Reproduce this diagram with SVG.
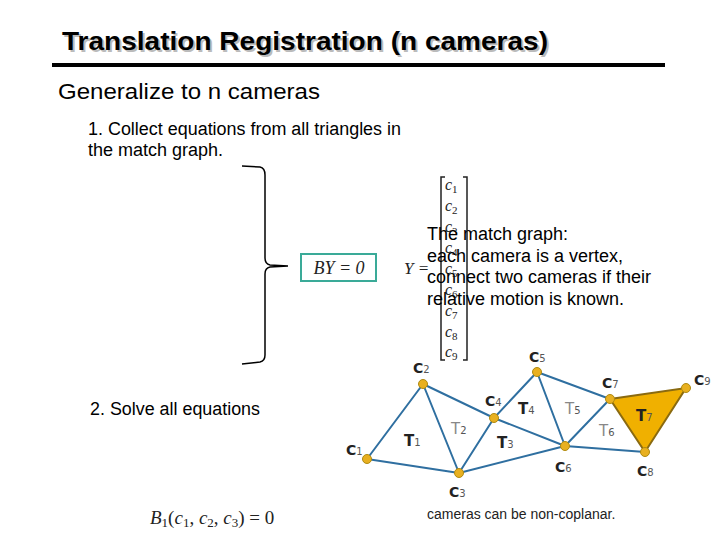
<svg xmlns="http://www.w3.org/2000/svg" width="720" height="540" viewBox="0 0 720 540">
<style>
.sans{font-family:"Liberation Sans",Arial,sans-serif;fill:#000}
.math{font-family:"Liberation Serif","Times New Roman",serif;font-style:italic;fill:#222}
.edge{stroke:#2f6fa0;stroke-width:2;fill:none}
.node{fill:#e8b020;stroke:#b08a10;stroke-width:1}
.cl{font-family:"DejaVu Sans","Liberation Sans",sans-serif;font-size:14px;font-weight:bold;fill:#222}
.sub{font-size:10px;font-weight:normal;fill:#555}
.tl{font-family:"DejaVu Sans","Liberation Sans",sans-serif;font-size:15px;fill:#222}
.tlight{fill:#888;font-weight:normal}
</style>
<rect width="720" height="540" fill="#fff"/>
<g id="title">
<text x="64" y="51.5" class="sans" font-size="26" font-weight="bold" textLength="486" lengthAdjust="spacingAndGlyphs" style="fill:#bbb">Translation Registration (n cameras)</text>
<text x="62" y="50" class="sans" font-size="26" font-weight="bold" textLength="486" lengthAdjust="spacingAndGlyphs">Translation Registration (n cameras)</text>
<rect x="52" y="63" width="613" height="4" fill="#000"/>
</g>
<g id="intro">
<text x="58" y="99" class="sans" font-size="22" textLength="262" lengthAdjust="spacingAndGlyphs">Generalize to n cameras</text>
<text x="88" y="135" class="sans" font-size="18" textLength="313" lengthAdjust="spacingAndGlyphs">1. Collect equations from all triangles in</text>
<text x="88" y="156" class="sans" font-size="18">the match graph.</text>
<text x="90" y="415" class="sans" font-size="18" textLength="170" lengthAdjust="spacingAndGlyphs">2. Solve all equations</text>
</g>
<g id="brace">
<path d="M242,166 L260,167 Q265,168 265,175 L265,258 Q265,264 270,265 L288,266 L270,267 Q265,268 265,274 L265,355 Q265,361 260,362 L242,364" fill="none" stroke="#000" stroke-width="1.5"/>
</g>
<g id="by0">
<rect x="301" y="254" width="75" height="27" fill="#fff" stroke="#3aaa98" stroke-width="2"/>
<text x="339" y="274" class="math" font-size="18" text-anchor="middle">BY = 0</text>
</g>
<g id="ymatrix">
<text x="404" y="274" class="math" font-size="17">Y =</text>
<path d="M445,177 L441,177 L441,360 L445,360" fill="none" stroke="#222" stroke-width="1.5"/>
<path d="M463,177 L467,177 L467,360 L463,360" fill="none" stroke="#222" stroke-width="1.5"/>
<g class="math" font-size="16">
<text x="445" y="190">c<tspan font-size="11" font-style="normal" dy="3">1</tspan></text>
<text x="445" y="211">c<tspan font-size="11" font-style="normal" dy="3">2</tspan></text>
<text x="445" y="232">c<tspan font-size="11" font-style="normal" dy="3">3</tspan></text>
<text x="445" y="253">c<tspan font-size="11" font-style="normal" dy="3">4</tspan></text>
<text x="445" y="274">c<tspan font-size="11" font-style="normal" dy="3">5</tspan></text>
<text x="445" y="295">c<tspan font-size="11" font-style="normal" dy="3">6</tspan></text>
<text x="445" y="316">c<tspan font-size="11" font-style="normal" dy="3">7</tspan></text>
<text x="445" y="337">c<tspan font-size="11" font-style="normal" dy="3">8</tspan></text>
<text x="445" y="357">c<tspan font-size="11" font-style="normal" dy="3">9</tspan></text>
</g>
</g>
<g id="matchtext" class="sans" font-size="18">
<text x="427" y="240">The match graph:</text>
<text x="427" y="262">each camera is a vertex,</text>
<text x="427" y="283" textLength="224" lengthAdjust="spacingAndGlyphs">connect two cameras if their</text>
<text x="427" y="305">relative motion is known.</text>
</g>
<g id="T7fill">
<polygon points="610,399 686,388 645,452" fill="#f0b000" stroke="#8a6a10" stroke-width="2"/>
</g>
<g id="connectors">
<path class="edge" d="M367,459 L423,384 M367,459 L459,473 M423,384 L459,473 M423,384 L494,418 M459,473 L494,418 M459,473 L565,446 M494,418 L565,446 M494,418 L537,372 M537,372 L565,446 M537,372 L610,399 M565,446 L610,399 M565,446 L645,452"/>
</g>
<g id="nodes">
<g id="c1"><circle class="node" cx="367" cy="459" r="4.5"/><text class="cl" x="346" y="455">C<tspan class="sub">1</tspan></text></g>
<g id="c2"><circle class="node" cx="423" cy="384" r="4.5"/><text class="cl" x="413" y="373">C<tspan class="sub">2</tspan></text></g>
<g id="c3"><circle class="node" cx="459" cy="473" r="4.5"/><text class="cl" x="449" y="497">C<tspan class="sub">3</tspan></text></g>
<g id="c4"><circle class="node" cx="494" cy="418" r="4.5"/><text class="cl" x="485" y="406">C<tspan class="sub">4</tspan></text></g>
<g id="c5"><circle class="node" cx="537" cy="372" r="4.5"/><text class="cl" x="529" y="362">C<tspan class="sub">5</tspan></text></g>
<g id="c6"><circle class="node" cx="565" cy="446" r="4.5"/><text class="cl" x="555" y="472">C<tspan class="sub">6</tspan></text></g>
<g id="c7"><circle class="node" cx="610" cy="399" r="4.5"/><text class="cl" x="602" y="388">C<tspan class="sub">7</tspan></text></g>
<g id="c8"><circle class="node" cx="645" cy="452" r="4.5"/><text class="cl" x="637" y="476">C<tspan class="sub">8</tspan></text></g>
<g id="c9"><circle class="node" cx="686" cy="388" r="4.5"/><text class="cl" x="694" y="385">C<tspan class="sub">9</tspan></text></g>
</g>
<g id="tris">
<text class="tl" font-weight="bold" x="404" y="446">T<tspan class="sub">1</tspan></text>
<text class="tl tlight" x="451" y="434">T<tspan class="sub">2</tspan></text>
<text class="tl" font-weight="bold" x="497" y="448">T<tspan class="sub">3</tspan></text>
<text class="tl" font-weight="bold" x="518" y="414">T<tspan class="sub">4</tspan></text>
<text class="tl tlight" x="565" y="414">T<tspan class="sub">5</tspan></text>
<text class="tl tlight" x="599" y="436">T<tspan class="sub">6</tspan></text>
<text class="tl" font-weight="bold" x="636" y="421">T<tspan class="sub">7</tspan></text>
</g>
<g id="captions">
<text x="427" y="519" class="sans" font-size="14" style="fill:#222">cameras can be non-coplanar.</text>
<text x="150" y="524" class="math" font-size="19">B<tspan font-size="13" font-style="normal" dy="3">1</tspan><tspan dy="-3" font-style="normal">(</tspan>c<tspan font-size="13" font-style="normal" dy="3">1</tspan><tspan dy="-3" font-style="normal">, </tspan>c<tspan font-size="13" font-style="normal" dy="3">2</tspan><tspan dy="-3" font-style="normal">, </tspan>c<tspan font-size="13" font-style="normal" dy="3">3</tspan><tspan dy="-3" font-style="normal">) = 0</tspan></text>
</g>
</svg>
